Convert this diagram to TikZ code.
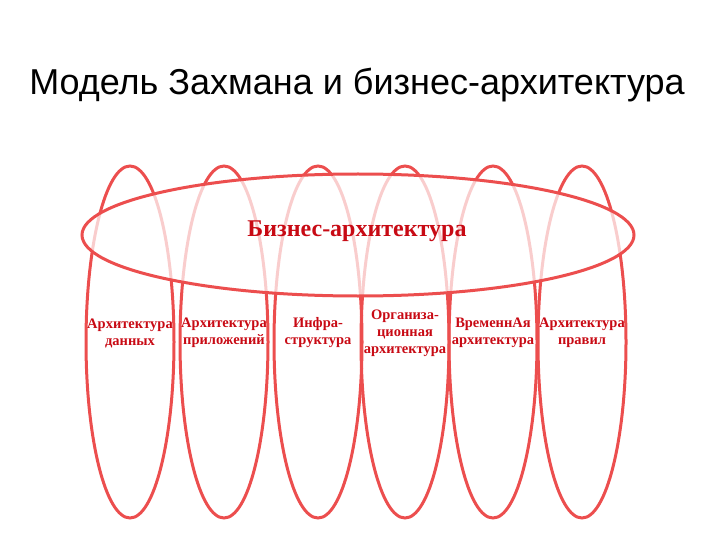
\documentclass[tikz,border=0pt]{standalone}
\usepackage{fontspec}
\setmainfont{Liberation Serif}
\newfontfamily\titlefont{Liberation Sans}
\definecolor{ered}{RGB}{236,78,78}
\definecolor{tred}{RGB}{200,10,20}
\begin{document}
\begin{tikzpicture}[x=1pt,y=-1pt,
  vell/.style={draw=ered,line width=3pt},
  lbl/.style={text=tred,font=\bfseries\fontsize{14.5}{17}\selectfont,align=center,inner sep=0pt}]
\useasboundingbox (0,0) rectangle (720,540);
\node[font=\titlefont\fontsize{36}{40}\selectfont] (title) at (357,85) {Модель Захмана и бизнес-архитектура};
\foreach \i/\cx in {1/130,2/224,3/318,4/405,5/493,6/582}{
  \draw[vell] (\cx,342) ellipse [x radius=44,y radius=176];
}
\draw[ered,line width=3pt,fill=white,fill opacity=0.72] (358,235) ellipse [x radius=276,y radius=61];
\node[text=tred,font=\bfseries\fontsize{24}{28}\selectfont] (biz) at (357,231) {Бизнес-архитектура};
\node[lbl] (a1) at (130,333) {Архитектура\\данных};
\node[lbl] (a2) at (224,333) {Архитектура\\приложений};
\node[lbl] (a3) at (318,333) {Инфра-\\структура};
\node[lbl] (a4) at (405,333) {Организа-\\ционная\\архитектура};
\node[lbl] (a5) at (493,333) {ВременнАя\\архитектура};
\node[lbl] (a6) at (582,333) {Архитектура\\правил};
\end{tikzpicture}
\end{document}
